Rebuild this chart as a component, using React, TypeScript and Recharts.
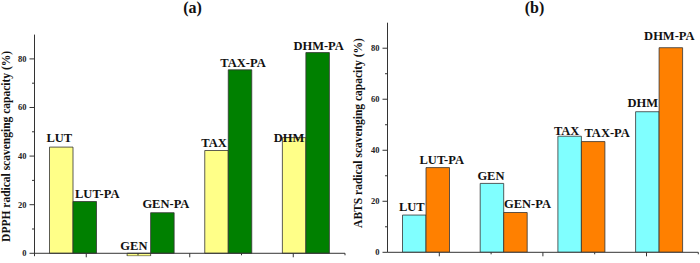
import { Bar, BarChart, LabelList, ReferenceDot, ReferenceLine, XAxis, YAxis } from "recharts";

const categories = ["LUT", "GEN", "TAX", "DHM"];

// DPPH radical scavenging capacity (%)
const dpphParent = [43.7, -1.1, 42.3, 47.6];
const dpphPA = [21.3, 16.7, 75.5, 82.6];

// ABTS radical scavenging capacity (%)
const abtsParent = [14.6, 27.0, 45.5, 55.1];
const abtsPA = [33.2, 15.6, 43.4, 80.2];

const yTicks = [0, 10, 20, 30, 40, 50, 60, 70, 80];
const yTickLabels = ["0", "", "20", "", "40", "", "60", "", "80"];

const FONT = "'Liberation Serif', 'Times New Roman', serif";
const AXIS = "#333";

// label nudges [dx, gap above bar top]
const dpphLabelPos: Record<string, [number, number]> = {
  LUT: [-2, 5],
  "LUT-PA": [12.5, 4],
  GEN: [-5, 3],
  "GEN-PA": [3.5, 4.5],
  TAX: [-2.5, 3.5],
  "TAX-PA": [3, 3],
  DHM: [-5, -4],
  "DHM-PA": [1, 2.5],
};
const abtsLabelPos: Record<string, [number, number]> = {
  LUT: [-2.5, 4.3],
  "LUT-PA": [4, 4],
  GEN: [-1, 3.3],
  "GEN-PA": [12, 5],
  TAX: [-3, 1.7],
  "TAX-PA": [14, 4.6],
  DHM: [-4.5, 4.6],
  "DHM-PA": [-1.5, 7.5],
};

const buildRows = (parent: number[], pa: number[]) =>
  categories.map((c, i) => ({
    name: c,
    parent: parent[i],
    pa: pa[i],
    parentLabel: c,
    paLabel: `${c}-PA`,
  }));

const dpphRows = buildRows(dpphParent, dpphPA);
const abtsRows = buildRows(abtsParent, abtsPA);

const renderBarLabel = (pos: Record<string, [number, number]>) => (props: any) => {
  const { x, y, width, height, value } = props;
  const [dx, gap] = pos[value] || [0, 4];
  const top = Math.min(y, y + height);
  return (
    <text
      x={x + width / 2 + dx}
      y={top - gap}
      textAnchor="middle"
      fontFamily={FONT}
      fontWeight="bold"
      fontSize={12.5}
      fill="#111"
    >
      {value}
    </text>
  );
};

const YTick = (props: any) => {
  const { x, y, index } = props;
  const label = yTickLabels[index] ?? "";
  const major = label !== "";
  return (
    <g>
      <line x1={x} x2={x - (major ? 5 : 2.5)} y1={y} y2={y} stroke={AXIS} strokeWidth={1} />
      {major && (
        <text
          x={x - 8}
          y={y}
          dy={3}
          textAnchor="end"
          fontFamily={FONT}
          fontWeight="bold"
          fontSize={8.5}
          fill="#222"
        >
          {label}
        </text>
      )}
    </g>
  );
};

const tickShape = (len: number) => (props: any) => {
  const { cx, cy } = props;
  return <line x1={cx} x2={cx} y1={cy} y2={cy + len} stroke={AXIS} strokeWidth={1} />;
};

const yLabel = (text: string, dx: number, dy: number) => (props: any) => {
  const { viewBox } = props;
  const tx = viewBox.x + dx;
  const ty = viewBox.y + viewBox.height / 2 + dy;
  return (
    <text
      x={tx}
      y={ty}
      transform={`rotate(-90, ${tx}, ${ty})`}
      textAnchor="middle"
      fontFamily={FONT}
      fontWeight="bold"
      fontSize={11.5}
      fill="#111"
    >
      {text}
    </text>
  );
};

type PanelProps = {
  rows: any[];
  domain: [number, number];
  margin: { top: number; right: number; bottom: number; left: number };
  yWidth: number;
  parentColor: string;
  paColor: string;
  labelPos: Record<string, [number, number]>;
  yTitle: string;
  yTitleDx: number;
  yTitleDy: number;
};

const Panel = ({
  rows,
  domain,
  margin,
  yWidth,
  parentColor,
  paColor,
  labelPos,
  yTitle,
  yTitleDx,
  yTitleDy,
}: PanelProps) => (
  <BarChart width={350} height={263} data={rows} margin={margin} barGap={0} barSize={23.5}>
    <XAxis dataKey="name" hide />
    <XAxis xAxisId="grid" type="number" domain={[0, categories.length]} hide />
    <YAxis
      type="number"
      domain={domain}
      ticks={yTicks}
      interval={0}
      width={yWidth}
      tickSize={0}
      tickMargin={0}
      tickLine={false}
      axisLine={{ stroke: AXIS, strokeWidth: 1 }}
      tick={<YTick />}
      allowDataOverflow
      label={{ content: yLabel(yTitle, yTitleDx, yTitleDy) }}
    />
    <Bar dataKey="parent" fill={parentColor} stroke={AXIS} strokeWidth={0.8} isAnimationActive={false}>
      <LabelList dataKey="parentLabel" content={renderBarLabel(labelPos)} />
    </Bar>
    <Bar dataKey="pa" fill={paColor} stroke={AXIS} strokeWidth={0.8} isAnimationActive={false}>
      <LabelList dataKey="paLabel" content={renderBarLabel(labelPos)} />
    </Bar>
    <ReferenceLine y={0} stroke={AXIS} strokeWidth={1} ifOverflow="visible" />
    {categories.map((c, i) => (
      <ReferenceDot
        key={`maj-${c}`}
        xAxisId="grid"
        x={i + 0.5}
        y={0}
        shape={tickShape(4)}
        ifOverflow="visible"
      />
    ))}
    {categories.map((c, i) => (
      <ReferenceDot
        key={`min-${c}`}
        xAxisId="grid"
        x={i + 1}
        y={0}
        shape={tickShape(2)}
        ifOverflow="visible"
      />
    ))}
  </BarChart>
);

export default function App() {
  return (
    <div style={{ position: "absolute", left: 0, top: 0, width: 700, height: 263, background: "#fff" }}>
      <div style={{ position: "absolute", left: 0, top: 0 }}>
        <Panel
          rows={dpphRows}
          domain={[-1.2, 90]}
          margin={{ top: 34.6, right: 5, bottom: 6.8, left: 0 }}
          yWidth={34.5}
          parentColor="#FFFF88"
          paColor="#008000"
          labelPos={dpphLabelPos}
          yTitle="DPPH radical scavenging capacity (%)"
          yTitleDx={10.5}
          yTitleDy={1}
        />
      </div>
      <div style={{ position: "absolute", left: 350, top: 0 }}>
        <Panel
          rows={abtsRows}
          domain={[0, 90]}
          margin={{ top: 22.7, right: 1.7, bottom: 10.7, left: 0 }}
          yWidth={37.5}
          parentColor="#80FFFF"
          paColor="#FF8000"
          labelPos={abtsLabelPos}
          yTitle="ABTS radical scavenging capacity (%)"
          yTitleDx={11.5}
          yTitleDy={-4.5}
        />
      </div>
      <svg
        width={700}
        height={263}
        style={{ position: "absolute", left: 0, top: 0, pointerEvents: "none" }}
      >
        <text x={192.5} y={12.5} textAnchor="middle" fontFamily={FONT} fontWeight="bold" fontSize={16} fill="#111">
          (a)
        </text>
        <text x={534.5} y={13} textAnchor="middle" fontFamily={FONT} fontWeight="bold" fontSize={16} fill="#111">
          (b)
        </text>
      </svg>
    </div>
  );
}
